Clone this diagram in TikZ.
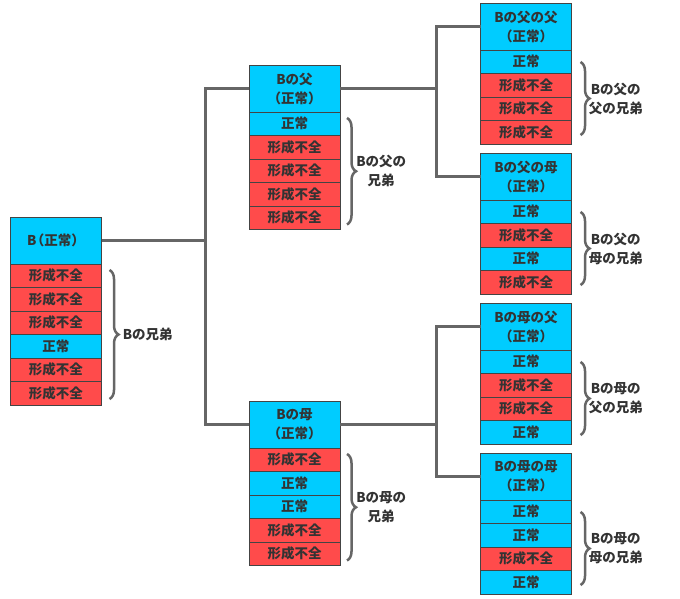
\documentclass[tikz,border=0pt]{standalone}
\usepackage{fontspec}
\setmainfont{Noto Sans CJK JP}
\usepackage{xcolor}
\usepackage{tikz}
\usetikzlibrary{positioning}
\usetikzlibrary{decorations.pathreplacing}
\definecolor{okblue}{RGB}{0,204,255}
\definecolor{ngred}{RGB}{255,75,75}
\definecolor{edgegray}{RGB}{68,68,68}
\definecolor{wiregray}{RGB}{102,102,102}
\definecolor{ink}{RGB}{51,51,51}
\tikzstyle{head} = [rectangle, minimum width=91pt, minimum height=47pt, text centered, text width=88pt, inner sep=0pt, outer sep=0pt, draw=edgegray, fill=okblue, text=ink, font=\fontsize{13.5}{19}\selectfont\bfseries]
\tikzstyle{row} = [rectangle, minimum width=91pt, minimum height=23.5pt, text centered, text width=88pt, inner sep=0pt, outer sep=0pt, draw=edgegray, text=ink, font=\fontsize{13.5}{19}\selectfont\bfseries]
\tikzstyle{ok} = [row, fill=okblue]
\tikzstyle{ng} = [row, fill=ngred]
\tikzstyle{link} = [line width=3pt, draw=wiregray]
\tikzstyle{brace} = [decorate, decoration={brace, amplitude=9pt}, line width=2.5pt, draw=wiregray]
\tikzstyle{note} = [text=ink, align=center, inner sep=0pt, font=\fontsize{13.5}{19}\selectfont\bfseries]

\begin{document}
\begin{tikzpicture}[x=1pt, y=-1pt]
  \useasboundingbox (0,0) rectangle (680,599);

  % B
  \node(b)[head] at (56,240.5) {B\kern-0.4em（正常）};
  \node(b1)[ng, below=0pt of b] {形成不全};
  \node(b2)[ng, below=0pt of b1] {形成不全};
  \node(b3)[ng, below=0pt of b2] {形成不全};
  \node(b4)[ok, below=0pt of b3] {正常};
  \node(b5)[ng, below=0pt of b4] {形成不全};
  \node(b6)[ng, below=0pt of b5] {形成不全};
  \draw[brace] ([xshift=8pt,yshift=-6pt]b1.north east) -- ([xshift=8pt,yshift=6pt]b6.south east)
    node[note, midway, right=12pt](bsib) {Bの兄弟};

  % father
  \node(f)[head] at (294.5,88.5) {Bの父\\（正常）};
  \node(f1)[ok, below=0pt of f] {正常};
  \node(f2)[ng, below=0pt of f1] {形成不全};
  \node(f3)[ng, below=0pt of f2] {形成不全};
  \node(f4)[ng, below=0pt of f3] {形成不全};
  \node(f5)[ng, below=0pt of f4] {形成不全};
  \draw[brace] ([xshift=7pt,yshift=-6pt]f1.north east) -- ([xshift=7pt,yshift=5pt]f5.south east)
    node[note, midway, right=8pt](fsib) {Bの父の\\兄弟};

  % mother
  \node(m)[head] at (294.5,424.5) {Bの母\\（正常）};
  \node(m1)[ng, below=0pt of m] {形成不全};
  \node(m2)[ok, below=0pt of m1] {正常};
  \node(m3)[ok, below=0pt of m2] {正常};
  \node(m4)[ng, below=0pt of m3] {形成不全};
  \node(m5)[ng, below=0pt of m4] {形成不全};
  \draw[brace] ([xshift=7pt,yshift=-6pt]m1.north east) -- ([xshift=7pt,yshift=5pt]m5.south east)
    node[note, midway, right=8pt](msib) {Bの母の\\兄弟};

  % father's father
  \node(ff)[head] at (526,26.5) {Bの父の父\\（正常）};
  \node(ff1)[ok, below=0pt of ff] {正常};
  \node(ff2)[ng, below=0pt of ff1] {形成不全};
  \node(ff3)[ng, below=0pt of ff2] {形成不全};
  \node(ff4)[ng, below=0pt of ff3] {形成不全};
  \draw[brace] ([xshift=9pt,yshift=-12pt]ff1.north east) -- ([xshift=9pt,yshift=9pt]ff4.south east)
    node[note, midway, right=7pt](ffsib) {Bの父の\\父の兄弟};

  % father's mother
  \node(fm)[head] at (526,176.5) {Bの父の母\\（正常）};
  \node(fm1)[ok, below=0pt of fm] {正常};
  \node(fm2)[ng, below=0pt of fm1] {形成不全};
  \node(fm3)[ok, below=0pt of fm2] {正常};
  \node(fm4)[ng, below=0pt of fm3] {形成不全};
  \draw[brace] ([xshift=9pt,yshift=-12pt]fm1.north east) -- ([xshift=9pt,yshift=9pt]fm4.south east)
    node[note, midway, right=7pt](fmsib) {Bの父の\\母の兄弟};

  % mother's father
  \node(mf)[head] at (526,326.5) {Bの母の父\\（正常）};
  \node(mf1)[ok, below=0pt of mf] {正常};
  \node(mf2)[ng, below=0pt of mf1] {形成不全};
  \node(mf3)[ng, below=0pt of mf2] {形成不全};
  \node(mf4)[ok, below=0pt of mf3] {正常};
  \draw[brace] ([xshift=9pt,yshift=-12pt]mf1.north east) -- ([xshift=9pt,yshift=9pt]mf4.south east)
    node[note, midway, right=7pt](mfsib) {Bの母の\\父の兄弟};

  % mother's mother
  \node(mm)[head] at (526,476.5) {Bの母の母\\（正常）};
  \node(mm1)[ok, below=0pt of mm] {正常};
  \node(mm2)[ok, below=0pt of mm1] {正常};
  \node(mm3)[ng, below=0pt of mm2] {形成不全};
  \node(mm4)[ok, below=0pt of mm3] {正常};
  \draw[brace] ([xshift=9pt,yshift=-12pt]mm1.north east) -- ([xshift=9pt,yshift=9pt]mm4.south east)
    node[note, midway, right=7pt](mmsib) {Bの母の\\母の兄弟};

  % tree lines
  \coordinate(j1) at (205,240.5);
  \coordinate(j2) at (436,88.5);
  \coordinate(j3) at (436,424.5);
  \draw[link](b.east) -- (j1);
  \draw[link](f.west) -| (j1) |- (m.west);
  \draw[link](f.east) -- (j2);
  \draw[link](ff.west) -| (j2) |- (fm.west);
  \draw[link](m.east) -- (j3);
  \draw[link](mf.west) -| (j3) |- (mm.west);
\end{tikzpicture}
\end{document}
